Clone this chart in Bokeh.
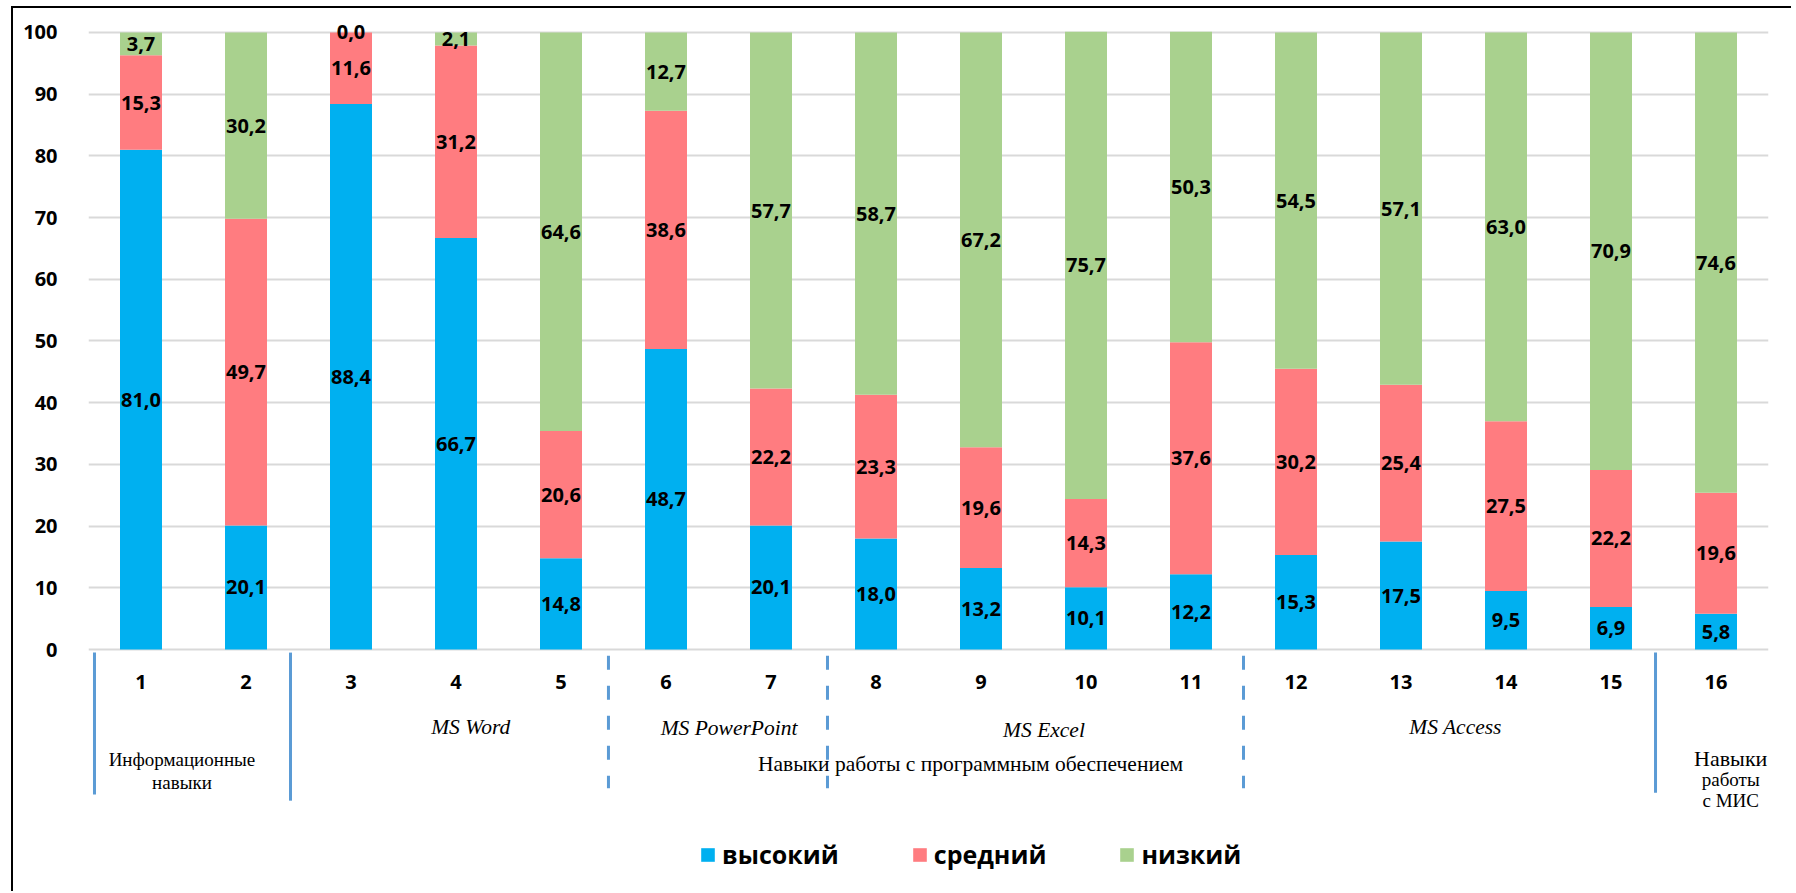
from bokeh.plotting import figure
from bokeh.models import FixedTicker, Legend, LegendItem, ColumnDataSource, Range1d
from bokeh.core.properties import value
from bokeh.embed import file_html
from bokeh.resources import INLINE

# ---- data ----
categories = ["1", "2", "3", "4", "5", "6", "7", "8", "9", "10", "11", "12", "13", "14", "15", "16"]
high = [81.0, 20.1, 88.4, 66.7, 14.8, 48.7, 20.1, 18.0, 13.2, 10.1, 12.2, 15.3, 17.5, 9.5, 6.9, 5.8]
mid = [15.3, 49.7, 11.6, 31.2, 20.6, 38.6, 22.2, 23.3, 19.6, 14.3, 37.6, 30.2, 25.4, 27.5, 22.2, 19.6]
low = [3.7, 30.2, 0.0, 2.1, 64.6, 12.7, 57.7, 58.7, 67.2, 75.7, 50.3, 54.5, 57.1, 63.0, 70.9, 74.6]
series_names = ["высокий", "средний", "низкий"]
y_ticks = [0, 10, 20, 30, 40, 50, 60, 70, 80, 90, 100]

group_labels = ["MS Word", "MS PowerPoint", "MS Excel", "MS Access"]
software_label = "Навыки работы с программным обеспечением"
info_label = ["Информационные", "навыки"]
mis_label = ["Навыки", "работы", "с МИС"]

# ---- layout / style ----
colors = ["#00B0F0", "#FF7C80", "#A9D18E"]
sep_color = "#5B9BD5"
FONT = "Open Sans"
SERIF = "Liberation Serif"

xs = [int(c) for c in categories]

p = figure(width=1780, height=885,
           x_range=Range1d(0.5, 16.5), y_range=Range1d(-39.22, 103.24),
           output_backend="svg", toolbar_location=None,
           min_border_left=75, min_border_right=25,
           min_border_top=4, min_border_bottom=2)
p.styles = {"margin-left": "11px", "margin-top": "6px", "margin-bottom": "-30px",
            "border-left": "2px solid black", "border-top": "2px solid black"}
p.outline_line_color = None
p.background_fill_color = "white"
p.xaxis.visible = False
p.xgrid.visible = False

yt = FixedTicker(ticks=y_ticks)
p.yaxis.ticker = yt
p.yaxis.axis_line_color = None
p.yaxis.major_tick_line_color = None
p.yaxis.minor_tick_line_color = None
p.yaxis.major_label_standoff = 25
p.yaxis.major_label_text_font = FONT
p.yaxis.major_label_text_font_style = "bold"
p.yaxis.major_label_text_font_size = "20px"
p.yaxis.major_label_text_color = "black"
p.ygrid.ticker = yt
p.ygrid.grid_line_color = "#D9D9D9"
p.ygrid.grid_line_width = 2

src = ColumnDataSource(dict(x=xs, high=high, mid=mid, low=low))
rends = p.vbar_stack(["high", "mid", "low"], x="x", width=0.4, color=colors,
                     line_color=None, source=src)

# data labels at segment centers
def fmt(v):
    return f"{v:.1f}".replace(".", ",")

lx, ly, lt = [], [], []
for i, x in enumerate(xs):
    base = 0.0
    for vals in (high, mid, low):
        v = vals[i]
        lx.append(x)
        ly.append(base + v / 2.0)
        lt.append(fmt(v))
        base += v
p.text(x=lx, y=ly, text=lt, text_align="center", text_baseline="middle",
       text_font=value(FONT), text_font_style="bold", text_font_size="20px",
       text_color="black")

# category numbers (x tick labels)
p.text(x=xs, y=[-5.2] * len(xs), text=categories, text_align="center",
       text_baseline="middle", text_font=value(FONT), text_font_style="bold",
       text_font_size="20px", text_color="black")

# group labels
p.text(x=[4.14, 6.6, 9.6, 13.52], y=[-12.5, -12.8, -13.1, -12.5], text=group_labels,
       text_align="center", text_baseline="middle", text_font=value(SERIF),
       text_font_style="italic", text_font_size="21.5px", text_color="black")
p.text(x=[8.9], y=[-18.6], text=[software_label], text_align="center",
       text_baseline="middle", text_font=value(SERIF), text_font_size="21.5px",
       text_color="black")
p.text(x=[1.39, 1.39], y=[-17.8, -21.6], text=info_label, text_align="center",
       text_baseline="middle", text_font=value(SERIF), text_font_size="19px",
       text_color="black")
p.text(x=[16.14], y=[-17.7], text=mis_label[:1],
       text_align="center", text_baseline="middle", text_font=value(SERIF),
       text_font_size="22px", text_color="black")
p.text(x=[16.14, 16.14], y=[-21.1, -24.5], text=mis_label[1:],
       text_align="center", text_baseline="middle", text_font=value(SERIF),
       text_font_size="19px", text_color="black")

# separators
solid_x = [0.557, 2.424, 15.424]
p.segment(x0=solid_x, y0=[-0.5] * 3, x1=solid_x, y1=[-23.5, -24.5, -23.2],
          line_color=sep_color, line_width=3)
dash_x = [5.452, 7.538, 11.5]
p.segment(x0=dash_x, y0=[-1.0] * 3, x1=dash_x, y1=[-22.5] * 3,
          line_color=sep_color, line_width=3, line_dash="14 16")

legend = Legend(items=[LegendItem(label=n, renderers=[r]) for n, r in zip(series_names, rends)],
                orientation="horizontal", location=(611, 20),
                glyph_width=17, glyph_height=17, label_standoff=6, spacing=72,
                padding=0, margin=0, border_line_color=None,
                background_fill_alpha=0,
                label_text_font=FONT, label_text_font_style="bold",
                label_text_font_size="25px", label_text_color="black")
p.add_layout(legend)

open("out.html", "w").write(file_html(p, INLINE))
